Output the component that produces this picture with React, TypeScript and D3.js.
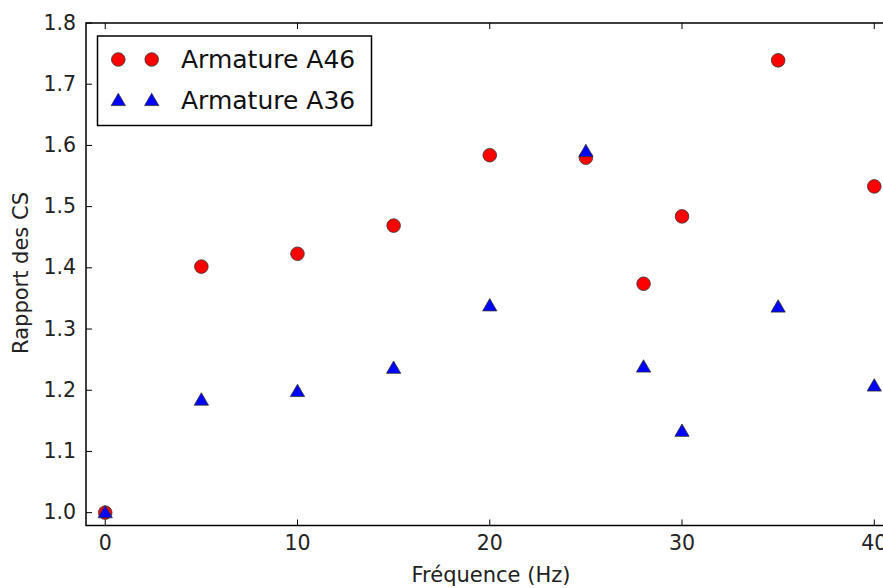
import React from "react";
import * as d3 from "d3";

const freq = [0, 5, 10, 15, 20, 25, 28, 30, 35, 40];
const a46 = [1.0, 1.402, 1.423, 1.469, 1.584, 1.58, 1.374, 1.484, 1.739, 1.533];
const a36 = [1.0, 1.184, 1.198, 1.236, 1.338, 1.59, 1.238, 1.133, 1.336, 1.207];
const xTicks = [0, 10, 20, 30, 40];
const yTicks = [1.0, 1.1, 1.2, 1.3, 1.4, 1.5, 1.6, 1.7, 1.8];
const seriesNames = ["Armature A46", "Armature A36"];

const W = 883, H = 588;
const left = 86, top = 23, right = 893.5, bottom = 525.5;

export default function App() {
  const x = d3.scaleLinear().domain([-1, 41]).range([left, right]);
  const y = d3.scaleLinear().domain([0.979, 1.8]).range([bottom, top]);
  const tri = d3.symbol().type(d3.symbolTriangle).size(88)();
  const font = "DejaVu Sans, sans-serif";
  const tl = 6;
  return (
    <svg width={W} height={H} style={{ position: "absolute", left: 0, top: 0 }} fontFamily={font}>
      <rect width={W} height={H} fill="#fff" />
      {xTicks.map((t) => (
        <g key={"x" + t}>
          <line x1={x(t)} x2={x(t)} y1={bottom} y2={bottom - tl} stroke="#000" strokeWidth={1} />
          <line x1={x(t)} x2={x(t)} y1={top} y2={top + tl} stroke="#000" strokeWidth={1} />
          <text x={x(t)} y={bottom + 24.5} textAnchor="middle" fontSize={20.5} fill="#222">{t}</text>
        </g>
      ))}
      {yTicks.map((t) => (
        <g key={"y" + t}>
          <line x1={left} x2={left + tl} y1={y(t)} y2={y(t)} stroke="#000" strokeWidth={1} />
          <line x1={right} x2={right - tl} y1={y(t)} y2={y(t)} stroke="#000" strokeWidth={1} />
          <text x={left - 10} y={y(t) + 6.5} textAnchor="end" fontSize={20.5} fill="#222">{t.toFixed(1)}</text>
        </g>
      ))}
      {freq.map((f, i) => (
        <circle key={"c" + i} cx={x(f)} cy={y(a46[i])} r={6.8} fill="#ff0000" stroke="#333" strokeWidth={0.8} />
      ))}
      {freq.map((f, i) => (
        <path key={"t" + i} d={tri} transform={`translate(${x(f)},${y(a36[i]) + 1})`} fill="#0000ff" stroke="#333" strokeWidth={0.8} />
      ))}
      <rect x={left} y={top} width={right - left} height={bottom - top} fill="none" stroke="#000" strokeWidth={1.5} />
      <rect x={97.5} y={36} width={274} height={89.5} fill="#fff" stroke="#000" strokeWidth={1.5} />
      {seriesNames.map((n, i) => {
        const cy = 59.5 + i * 41;
        return (
          <g key={n}>
            {[118.3, 151.7].map((mx) =>
              i === 0 ? (
                <circle key={mx} cx={mx} cy={cy} r={6.8} fill="#ff0000" stroke="#333" strokeWidth={0.8} />
              ) : (
                <path key={mx} d={tri} transform={`translate(${mx},${cy + 1})`} fill="#0000ff" stroke="#333" strokeWidth={0.8} />
              )
            )}
            <text x={181} y={cy + 8} fontSize={25} fill="#111">{n}</text>
          </g>
        );
      })}
      <text x={491} y={582} textAnchor="middle" fontSize={21} fill="#222">Fréquence (Hz)</text>
      <text transform={`translate(28,273) rotate(-90)`} textAnchor="middle" fontSize={21} fill="#222">Rapport des CS</text>
    </svg>
  );
}
